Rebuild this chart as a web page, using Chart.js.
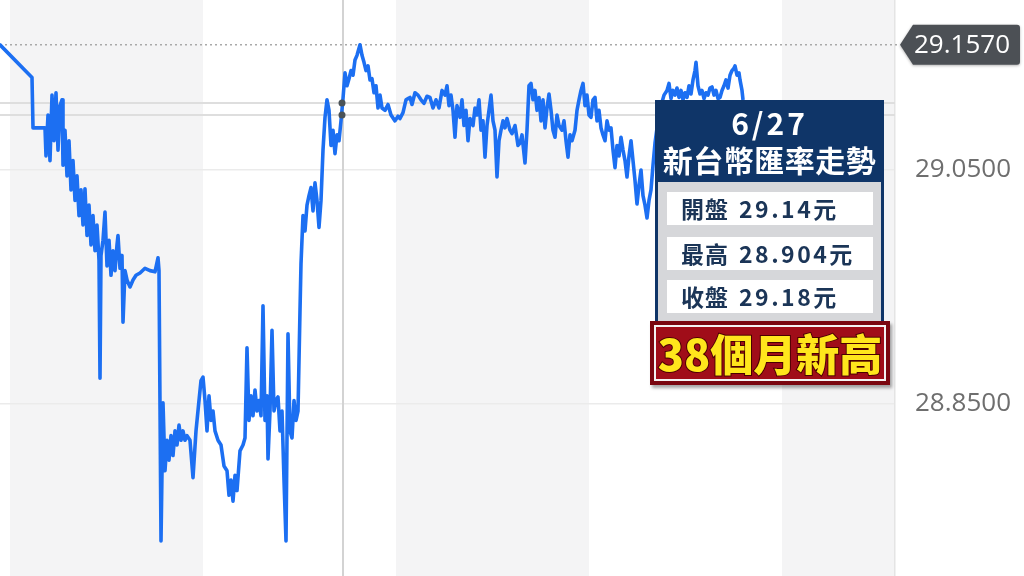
<!DOCTYPE html>
<html><head><meta charset="utf-8">
<script src="https://cdn.jsdelivr.net/npm/chart.js@4"></script>
<style>
html,body{margin:0;padding:0;background:#fff;width:1024px;height:576px;overflow:hidden}
#wrap{position:relative;width:1024px;height:576px}
#c{position:absolute;left:0;top:0}
.box{position:absolute;left:655px;top:100px;width:229px;height:230px;background:#d6d7da;border:3px solid #0f3568;border-top:none;box-sizing:border-box;font-family:"Noto Sans CJK TC","Noto Sans",sans-serif}
.head{position:absolute;left:-3px;top:0;width:229px;height:82px;background:#0f3568;color:#fff;text-align:center;font-weight:700}
.head .d{position:absolute;left:0;right:0;top:5px;font-size:30px;line-height:34px;letter-spacing:3px}
.head .t{position:absolute;left:0;right:0;top:41px;font-size:30px;line-height:36px;letter-spacing:0.5px}
.row{position:absolute;left:9px;width:206px;height:33px;background:#fff;color:#1b3557;font-weight:700;font-size:23px;line-height:33px;box-sizing:border-box;padding-left:14px;letter-spacing:1px;white-space:nowrap}
.row span{margin-left:10px;letter-spacing:2.5px}
.banner{position:absolute;left:650px;top:321px;width:240px;height:64px;background:#a00d19;border:4px solid #7a0710;box-sizing:border-box;box-shadow:inset 0 0 0 2px #f3f3f3,2px 3px 3px rgba(0,0,0,.35);font-family:"Noto Sans CJK TC",sans-serif;font-weight:900;font-size:43px;line-height:55px;color:#ffe61c;text-align:center;letter-spacing:0px;-webkit-text-stroke:2px #4a0000;paint-order:stroke fill;white-space:nowrap}
</style></head>
<body><div id="wrap"><canvas id="c" width="1024" height="576"></canvas>
<div class="box">
  <div class="head"><div class="d">6/27</div><div class="t">新台幣匯率走勢</div></div>
  <div class="row" style="top:92px">開盤<span>29.14元</span></div>
  <div class="row" style="top:137px">最高<span>28.904元</span></div>
  <div class="row" style="top:180px">收盤<span>29.18元</span></div>
</div>
<div class="banner">38個月新高</div>
</div>
<script>
// time in minutes (chart units), USD/TWD rate
const times = [0,9.6,9.9,13.5,13.8,14.4,15.0,15.6,16.2,16.8,17.4,18.0,18.6,18.9,19.5,20.1,20.7,21.3,21.9,22.5,23.1,23.7,24.3,24.9,25.5,26.1,26.7,27.3,27.9,28.5,29.1,29.7,30.0,30.3,30.9,31.5,32.1,32.7,33.3,33.9,34.5,35.1,35.4,36.0,36.6,36.9,37.5,38.1,39.0,39.9,40.8,42.0,43.5,45.0,46.5,47.4,47.7,48.3,48.9,49.5,50.1,50.7,51.3,51.9,52.5,53.1,53.7,54.3,54.9,55.5,56.1,57.0,57.9,58.8,59.7,60.3,60.9,61.5,62.1,62.7,63.3,63.9,64.5,65.4,66.3,67.2,68.1,68.7,69.3,69.9,70.5,71.1,72.0,72.9,73.5,74.1,74.7,75.3,75.9,76.5,77.1,77.7,78.3,78.9,79.5,80.1,80.4,81.0,81.6,82.2,82.8,83.4,84.0,84.6,85.2,85.8,86.4,87.0,87.6,88.2,88.8,89.4,90.0,90.3,90.9,91.5,92.1,92.7,93.3,93.9,94.5,95.1,95.7,96.3,96.9,97.5,98.1,98.7,99.3,99.9,100.5,101.1,101.7,102.3,102.9,103.5,104.1,104.7,105.3,105.9,106.5,107.1,108.0,108.6,109.2,109.8,110.4,111.0,111.6,112.2,112.8,113.4,114.0,114.6,115.5,116.4,117.3,118.5,119.4,120.0,120.9,121.8,122.4,123.0,123.6,124.5,125.4,126.3,127.2,128.1,129.0,129.9,130.8,131.7,132.6,133.5,134.1,134.7,135.3,135.9,136.5,137.1,138.0,138.6,139.2,139.8,140.4,141.0,141.9,142.5,143.1,143.7,144.3,144.9,145.5,146.1,146.7,147.3,147.9,148.5,149.1,149.7,150.3,150.9,151.5,152.1,153.0,153.6,154.5,155.4,156.0,156.6,157.5,158.1,158.7,159.3,159.9,160.5,161.1,161.7,162.3,162.9,163.5,164.1,164.7,165.3,165.9,166.5,167.1,167.7,168.6,169.2,169.8,170.4,171.0,171.6,172.5,173.1,173.7,174.3,174.9,175.5,176.1,176.7,177.3,177.9,178.5,179.1,179.7,180.3,180.9,181.5,182.1,182.7,183.3,183.9,184.5,185.1,185.7,186.3,186.9,187.5,188.1,188.7,189.3,189.9,190.5,191.1,191.7,192.3,192.9,193.5,194.1,194.7,195.3,195.9,196.5,197.4,198.3,199.2,200.1,200.7,201.3,201.9,202.5,203.1,203.7,204.3,204.9,205.5,206.1,206.7,207.3,207.9,208.5,208.8,209.4,210.0,210.6,211.2,211.8,212.4,213.0,213.6,214.2,214.8,215.4,216.0,216.6,217.2,217.8,218.4,219.0,219.6,220.2,220.5,221.1,221.7,222.0,222.6,222.9,223.5];
const rates = [29.157,29.129,29.086,29.086,29.062,29.097,29.058,29.114,29.075,29.116,29.067,29.105,29.110,29.054,29.084,29.045,29.075,29.033,29.058,29.024,29.045,29.011,29.033,29.003,29.034,28.994,29.020,28.986,29.011,28.981,29.003,28.973,28.872,28.977,28.990,29.014,28.968,28.990,28.960,28.981,28.964,28.986,28.994,28.966,28.977,28.920,28.964,28.956,28.950,28.956,28.960,28.962,28.966,28.964,28.963,28.975,28.964,28.733,28.851,28.793,28.819,28.802,28.823,28.806,28.827,28.815,28.832,28.819,28.827,28.819,28.823,28.819,28.787,28.827,28.853,28.870,28.873,28.853,28.827,28.857,28.836,28.844,28.827,28.819,28.815,28.797,28.793,28.772,28.785,28.767,28.789,28.776,28.810,28.815,28.821,28.898,28.836,28.857,28.840,28.862,28.844,28.853,28.840,28.934,28.836,28.857,28.803,28.844,28.913,28.844,28.853,28.856,28.827,28.844,28.785,28.733,28.910,28.827,28.821,28.853,28.836,28.844,28.930,28.970,29.011,28.998,29.020,29.028,29.035,29.015,29.039,29.024,29.001,29.024,29.067,29.095,29.110,29.101,29.071,29.084,29.064,29.080,29.075,29.092,29.111,29.133,29.122,29.128,29.135,29.131,29.144,29.148,29.157,29.148,29.142,29.135,29.139,29.127,29.128,29.116,29.122,29.103,29.114,29.103,29.101,29.106,29.097,29.092,29.096,29.094,29.099,29.110,29.111,29.112,29.106,29.116,29.114,29.110,29.107,29.113,29.112,29.103,29.110,29.103,29.118,29.114,29.122,29.105,29.114,29.101,29.078,29.105,29.095,29.110,29.088,29.101,29.075,29.094,29.088,29.103,29.097,29.110,29.084,29.092,29.061,29.088,29.101,29.114,29.092,29.084,29.044,29.075,29.084,29.092,29.086,29.094,29.084,29.081,29.088,29.071,29.073,29.080,29.056,29.084,29.122,29.124,29.110,29.118,29.101,29.112,29.092,29.110,29.086,29.103,29.115,29.101,29.084,29.078,29.097,29.088,29.084,29.092,29.075,29.061,29.080,29.075,29.084,29.101,29.110,29.118,29.124,29.105,29.114,29.097,29.095,29.110,29.112,29.092,29.101,29.086,29.080,29.075,29.092,29.084,29.086,29.067,29.052,29.071,29.062,29.078,29.067,29.058,29.044,29.062,29.075,29.058,29.041,29.021,29.037,29.050,29.028,29.020,29.009,29.024,29.033,29.054,29.073,29.092,29.105,29.114,29.118,29.124,29.111,29.118,29.114,29.120,29.112,29.118,29.110,29.116,29.112,29.122,29.115,29.127,29.135,29.142,29.122,29.115,29.118,29.111,29.116,29.114,29.120,29.121,29.114,29.118,29.111,29.112,29.118,29.122,29.127,29.120,29.131,29.135,29.137,29.139,29.131,29.133,29.127,29.118,29.110,29.097];
const yTicks = [28.85, 29.05];
const lastRate = 29.157;
const refLines = [29.1073, 29.0970];
const bandStarts = [3, 118.8, 234.6];
const bandWidth = 57.9;
const sessionMark = 102.9;
const xRange = [0, 268.5];
const yRange = [28.703, 29.1953];

const bgPlugin = {
  id:'bg',
  beforeDraw(chart){
    const {ctx, chartArea:a, scales:{x,y}} = chart;
    ctx.save();
    ctx.fillStyle = '#f4f4f5';
    bandStarts.forEach(s=>{
      const l = Math.max(a.left, x.getPixelForValue(s));
      const r = Math.min(a.right, x.getPixelForValue(s+bandWidth));
      ctx.fillRect(l, a.top, r-l, a.bottom-a.top);
    });
    ctx.restore();
  },
  beforeDatasetsDraw(chart){
    const {ctx, chartArea:a, scales:{x,y}} = chart;
    ctx.save();
    ctx.strokeStyle = '#dedede'; ctx.lineWidth = 2;
    refLines.forEach(v=>{
      const py = y.getPixelForValue(v);
      ctx.beginPath(); ctx.moveTo(a.left, py); ctx.lineTo(a.right, py); ctx.stroke();
    });
    const px = x.getPixelForValue(sessionMark);
    ctx.strokeStyle = '#d3d3d3'; ctx.lineWidth = 2;
    ctx.beginPath(); ctx.moveTo(px, a.top); ctx.lineTo(px, a.bottom); ctx.stroke();
    const ly = y.getPixelForValue(lastRate);
    ctx.strokeStyle = '#a9a9a9'; ctx.lineWidth = 1.5; ctx.setLineDash([2,3]);
    ctx.beginPath(); ctx.moveTo(a.left, ly); ctx.lineTo(a.right+5, ly); ctx.stroke();
    ctx.restore();
  },
  afterDraw(chart){
    const {ctx, chartArea:a, scales:{x,y}} = chart;
    ctx.save();
    const px = x.getPixelForValue(sessionMark);
    ctx.fillStyle = '#4b5358';
    refLines.forEach(v=>{
      ctx.beginPath(); ctx.arc(px-1, y.getPixelForValue(v), 3.5, 0, Math.PI*2); ctx.fill();
    });
    const ly = y.getPixelForValue(lastRate);
    const l = a.right + 5, b = a.right + 18, r = 1020, h = 20;
    ctx.shadowColor = 'rgba(0,0,0,0.3)'; ctx.shadowBlur = 3; ctx.shadowOffsetY = 1;
    ctx.fillStyle = '#4c5055';
    ctx.beginPath();
    ctx.moveTo(l, ly); ctx.lineTo(b, ly-h); ctx.lineTo(r-3, ly-h); ctx.quadraticCurveTo(r, ly-h, r, ly-h+3);
    ctx.lineTo(r, ly+h-3); ctx.quadraticCurveTo(r, ly+h, r-3, ly+h); ctx.lineTo(b, ly+h); ctx.closePath(); ctx.fill();
    ctx.shadowColor = 'transparent';
    ctx.fillStyle = '#ffffff';
    ctx.font = '500 26px "Open Sans"';
    ctx.textBaseline = 'middle'; ctx.textAlign = 'left';
    ctx.fillText(lastRate.toFixed(4), a.right + 19, ly + 1);
    ctx.restore();
  }
};

new Chart(document.getElementById('c'), {
  type:'line',
  data:{datasets:[{
    data: times.map((t,i)=>({x:t, y:rates[i]})),
    borderColor:'#1c6ff2', borderWidth:3.6, pointRadius:0, tension:0, fill:false,
    borderJoinStyle:'round', borderCapStyle:'round'
  }]},
  options:{
    responsive:false, animation:false, devicePixelRatio:1,
    layout:{padding:0},
    plugins:{legend:{display:false}, tooltip:{enabled:false}},
    scales:{
      x:{type:'linear', min:xRange[0], max:xRange[1], display:false},
      y:{position:'right', min:yRange[0], max:yRange[1],
        afterBuildTicks(s){ s.ticks = yTicks.map(v=>({value:v})); },
        afterFit(s){ s.width = 129; s.paddingTop = 0; s.paddingBottom = 0; },
        ticks:{callback:v=>Number(v).toFixed(4), color:'#6e6e6e', font:{family:'Open Sans', size:26}, padding:20},
        grid:{color:'#ebebeb', lineWidth:1.5, drawTicks:false},
        border:{display:true, color:'#e4e4e4', width:1.5}
      }
    }
  },
  plugins:[bgPlugin]
});
</script>
</body></html>
